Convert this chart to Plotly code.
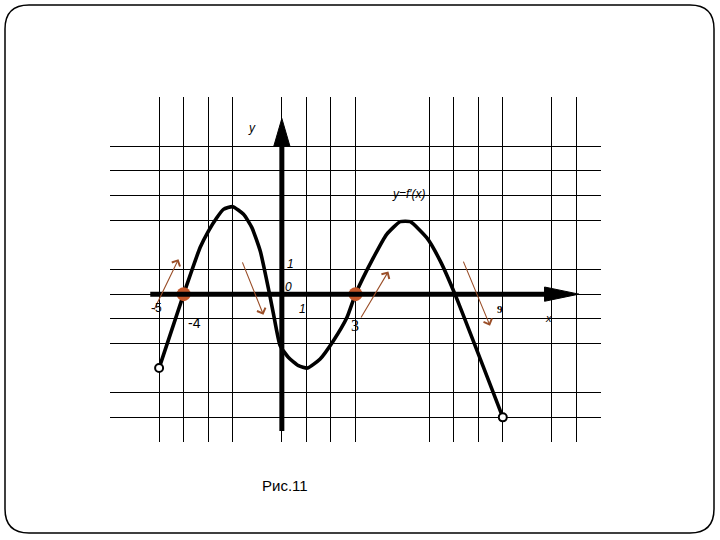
import plotly.graph_objects as go

# ---- data ----
curve_x = [-5, -4, -3.33, -2.99, -2.65, -2.38, -2.0, -1.56, -1.22, -0.88, -0.5, -0.34, -0.07,
           0.27, 0.68, 1.04, 1.56, 2.1, 2.65, 3.0, 3.73, 4.27, 4.82, 5.23, 5.9, 6.45, 7.05, 9]
curve_y = [-3, 0, 1.89, 2.56, 3.1, 3.44, 3.55, 3.24, 2.7, 1.75, 0, -0.81, -2.09,
           -2.57, -2.9, -3.0, -2.63, -1.89, -0.95, 0, 1.48, 2.43, 2.94, 2.94, 2.29, 1.35, 0, -5]

end_x = [-5, 9]
end_y = [-3, -5]

root_x = [-4, 3]
root_y = [0, 0]

grid_x = [-5, -4, -3, -2, 0, 1, 2, 3, 6, 7, 8, 9, 11, 12, 13]
grid_y = [-6, -5, -4, -2, -1, 0, 1, 3, 4, 5, 6]

# arrows: (start x, start y, tip x, tip y)
arrows = [(-5.23, -0.68, -4.21, 1.42),
          (-1.63, 1.35, -0.75, -0.84),
          (3.19, -1.01, 4.34, 0.92),
          (7.37, 1.38, 8.48, -1.28)]

labels = [
    ("y", -1.22, 6.76, 12, "Liberation Sans", True),
    ("1", 0.36, 1.22, 12, "Liberation Sans", True),
    ("0", 0.28, 0.28, 12, "Liberation Sans", True),
    ("1", 0.86, -0.62, 12, "Liberation Sans", True),
    ("-5", -5.1, -0.55, 12, "Liberation Sans", False),
    ("-4", -3.56, -1.19, 14, "Liberation Sans", False),
    ("3", 2.96, -1.28, 16, "Liberation Serif", False),
    ("<b>9</b>", 8.89, -0.62, 11, "Liberation Serif", False),
    ("x", 10.86, -0.97, 11, "Liberation Sans", True),
    ("y=f′(x)", 5.16, 4.05, 12, "Liberation Sans", True),
]

X_RANGE = [-7, 13]
Y_RANGE = [-6, 8]

W, H = 720, 540
ML, MR, MT, MB = 110, 119, 97, 98

fig = go.Figure()

fig.add_trace(go.Scatter(x=curve_x, y=curve_y, mode="lines",
                         line=dict(color="black", width=3.6, shape="spline", smoothing=0.5),
                         hoverinfo="skip", showlegend=False))
fig.add_trace(go.Scatter(x=end_x, y=end_y, mode="markers",
                         marker=dict(size=8, color="white", line=dict(color="black", width=2)),
                         showlegend=False))
fig.add_trace(go.Scatter(x=root_x, y=root_y, mode="markers",
                         marker=dict(size=14, color="#C4572A", line=dict(width=0)),
                         showlegend=False))

shapes = []
# thick axes
shapes.append(dict(type="line", xref="x", yref="y", x0=-5.36, y0=0, x1=10.8, y1=0,
                   line=dict(color="black", width=5), layer="above"))
shapes.append(dict(type="path", xref="x", yref="y",
                   path="M 10.7 -0.29 L 12.1 0 L 10.7 0.29 Z",
                   fillcolor="black", line=dict(color="black", width=1), layer="above"))
shapes.append(dict(type="line", xref="x", yref="y", x0=0, y0=-5.55, x1=0, y1=6.1,
                   line=dict(color="black", width=5), layer="above"))
shapes.append(dict(type="path", xref="x", yref="y",
                   path="M -0.33 6.0 L 0 7.13 L 0.33 6.0 Z",
                   fillcolor="black", line=dict(color="black", width=1), layer="above"))

# slide border (rounded rectangle) in paper coords
pw, ph = W - ML - MR, H - MT - MB
def px(x):
    return (x - ML) / pw
def py(y):
    return (H - MB - y) / ph
L, R, T, B, r = 5, 714, 5, 533, 24
path = (f"M {px(L+r)} {py(T)} L {px(R-r)} {py(T)} "
        f"Q {px(R)} {py(T)} {px(R)} {py(T+r)} L {px(R)} {py(B-r)} "
        f"Q {px(R)} {py(B)} {px(R-r)} {py(B)} L {px(L+r)} {py(B)} "
        f"Q {px(L)} {py(B)} {px(L)} {py(B-r)} L {px(L)} {py(T+r)} "
        f"Q {px(L)} {py(T)} {px(L+r)} {py(T)} Z")
shapes.append(dict(type="path", xref="paper", yref="paper", path=path,
                   line=dict(color="black", width=1.5), fillcolor="rgba(0,0,0,0)"))

annotations = []
for (sx, sy, tx, ty) in arrows:
    annotations.append(dict(x=tx, y=ty, ax=sx, ay=sy, xref="x", yref="y", axref="x", ayref="y",
                            showarrow=True, arrowhead=4, arrowsize=1.6, arrowwidth=1.1,
                            arrowcolor="#9A4E28", text=""))
for (t, x, y, s, f, it) in labels:
    txt = f"<i>{t}</i>" if it else t
    annotations.append(dict(x=x, y=y, xref="x", yref="y", text=txt, showarrow=False,
                            font=dict(size=s, family=f, color="black"),
                            xanchor="center", yanchor="middle"))
annotations.append(dict(x=px(285), y=py(485), xref="paper", yref="paper", text="Рис.11",
                        showarrow=False, font=dict(size=15, family="Liberation Sans", color="black"),
                        xanchor="center", yanchor="middle"))

fig.update_layout(
    width=W, height=H,
    margin=dict(l=ML, r=MR, t=MT, b=MB, pad=0),
    paper_bgcolor="white", plot_bgcolor="white",
    shapes=shapes, annotations=annotations,
    showlegend=False,
    xaxis=dict(range=X_RANGE, tickvals=grid_x, showticklabels=False, ticks="",
               showgrid=True, gridcolor="black", gridwidth=1, zeroline=False,
               showline=False, fixedrange=True),
    yaxis=dict(range=Y_RANGE, tickvals=grid_y, showticklabels=False, ticks="",
               showgrid=True, gridcolor="black", gridwidth=1, zeroline=False,
               showline=False, fixedrange=True),
)

fig.write_html("out.html", config={"displayModeBar": False},
               post_script="document.body.style.margin='0';document.body.style.overflow='hidden';")
